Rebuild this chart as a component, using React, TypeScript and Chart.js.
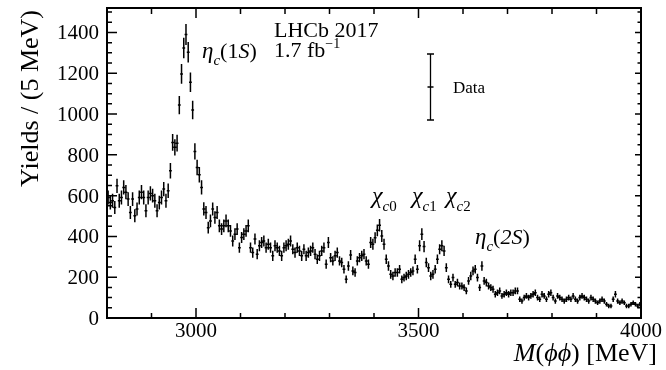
import { useEffect, useRef } from "react";
import { Chart, registerables } from "chart.js";

Chart.register(...registerables);

// Binning of the phi-phi invariant mass spectrum
const MASS_MIN = 2800;
const MASS_MAX = 4000;
const BIN_WIDTH = 5;
const YIELD_MAX = 1520;

// Yields per 5 MeV bin, split by mass region
const yieldsLowSideband = [
  591, 566, 575, 542, 648, 575, 591, 640, 617, 583, 517, 583, 501, 534, 591, 617, 591, 526, 591, 611,
  600, 575, 526, 566, 591, 632, 575, 624,
]; // 2800-2940 MeV
const yieldsEtaC1S = [
  722, 861, 837, 857, 1044, 1197, 1324, 1390, 1303, 1156, 1020, 817, 738, 702, 640, 535, 517, 443,
]; // 2940-3030 MeV
const yieldsContinuum = [
  476, 534, 493, 517, 452, 436, 452, 476, 452, 427, 378, 411, 436, 345, 395, 411, 427, 452, 345, 321,
  387, 313, 354, 370, 378, 345, 362, 345, 305, 354, 345, 329, 305, 345, 354, 362, 378, 337, 321, 345,
  329, 305, 337, 305, 321, 329, 345, 313, 288, 305, 329, 345,
]; // 3030-3290 MeV
const yieldsChiC = [
  264, 370, 296, 280, 305, 321, 280, 272, 239, 190, 255, 309, 231, 223, 280, 296, 305, 313, 280, 264,
  370, 362, 394, 430, 455, 402, 362, 288, 255, 214, 206, 223, 223, 239, 190, 198, 206, 214, 223, 231,
  288, 239, 354, 411, 350, 272, 247, 206, 214, 239, 288, 337, 354, 329, 247, 190, 165, 198, 165, 174,
  157, 157, 149, 133, 182, 206, 231, 239, 198, 149, 255, 182, 174, 157, 149, 141, 116, 124, 133, 108,
  116, 124,
]; // 3290-3700 MeV
const yieldsHighMass = [
  116, 124, 124, 133, 133, 92, 83, 100, 108, 100, 108, 116, 124, 100, 92, 116, 108, 92, 116, 124,
  100, 83, 108, 100, 92, 83, 92, 100, 92, 108, 92, 83, 100, 108, 100, 92, 83, 100, 92, 83,
  75, 83, 92, 83, 67, 59, 59, 92, 116, 83, 75, 83, 75, 59, 59, 67, 75, 67, 59, 67,
]; // 3700-4000 MeV

// Statistical uncertainties on the yields, same binning
const errorsLowSideband = [
  34, 34, 34, 32, 35, 34, 34, 35, 35, 34, 32, 34, 32, 32, 34, 35, 34, 32, 34, 35,
  34, 34, 32, 34, 34, 35, 34, 35,
];
const errorsEtaC1S = [38, 41, 40, 41, 45, 48, 50, 52, 50, 48, 45, 40, 38, 38, 35, 32, 32, 29];
const errorsContinuum = [
  31, 32, 31, 32, 31, 29, 31, 31, 31, 29, 27, 29, 29, 25, 27, 29, 29, 31, 25, 25,
  27, 25, 27, 27, 27, 25, 27, 25, 25, 27, 25, 25, 25, 25, 27, 27, 27, 25, 25, 25,
  25, 25, 25, 25, 25, 25, 25, 25, 23, 25, 25, 25,
];
const errorsChiC = [
  23, 27, 23, 23, 25, 25, 23, 23, 21, 19, 23, 25, 21, 21, 23, 23, 25, 25, 23, 23,
  27, 27, 27, 29, 31, 29, 27, 23, 23, 21, 21, 21, 21, 21, 19, 19, 21, 21, 21, 21,
  23, 21, 27, 29, 27, 23, 21, 21, 21, 21, 23, 25, 27, 25, 21, 19, 17, 19, 17, 19,
  17, 17, 17, 16, 19, 21, 21, 21, 19, 17, 23, 19, 19, 17, 17, 17, 16, 16, 16, 14,
  16, 16,
];
const errorsHighMass = [
  16, 16, 16, 16, 16, 13, 13, 14, 14, 14, 14, 16, 16, 14, 13, 16, 14, 13, 16, 16,
  14, 13, 14, 14, 13, 13, 13, 14, 13, 14, 13, 13, 14, 14, 14, 13, 13, 14, 13, 13,
  11, 13, 13, 13, 11, 11, 11, 13, 16, 13, 11, 13, 11, 11, 11, 11, 11, 11, 11, 11,
];

const yields = [
  ...yieldsLowSideband,
  ...yieldsEtaC1S,
  ...yieldsContinuum,
  ...yieldsChiC,
  ...yieldsHighMass,
];
const yieldErrors = [
  ...errorsLowSideband,
  ...errorsEtaC1S,
  ...errorsContinuum,
  ...errorsChiC,
  ...errorsHighMass,
];
const binCenters = yields.map((_, i) => MASS_MIN + BIN_WIDTH * (i + 0.5));

const xTickLabels = [3000, 3500, 4000];
const yTickLabels = [0, 200, 400, 600, 800, 1000, 1200, 1400];

const SERIF = '"Liberation Serif", "Times New Roman", Times, serif';

type Run = { text: string; size: number; italic?: boolean; dy?: number };

const runFont = (r: Run) => `${r.italic ? "italic " : ""}${r.size}px ${SERIF}`;

function runsWidth(ctx: CanvasRenderingContext2D, runs: Run[]) {
  let w = 0;
  for (const r of runs) {
    ctx.font = runFont(r);
    w += ctx.measureText(r.text).width;
  }
  return w;
}

function drawRuns(
  ctx: CanvasRenderingContext2D,
  runs: Run[],
  x: number,
  y: number,
  align: "left" | "right" | "center" = "left"
) {
  const w = runsWidth(ctx, runs);
  let cx = align === "right" ? x - w : align === "center" ? x - w / 2 : x;
  ctx.textAlign = "left";
  ctx.textBaseline = "alphabetic";
  for (const r of runs) {
    ctx.font = runFont(r);
    ctx.fillText(r.text, cx, y + (r.dy ?? 0));
    cx += ctx.measureText(r.text).width;
  }
}

const spectrumPlugin = {
  id: "spectrumDecor",
  afterDatasetsDraw(chart: Chart) {
    const { ctx, chartArea: a } = chart;
    const xs = chart.scales.x;
    const ys = chart.scales.y;

    // Data points with vertical error bars and bin-width horizontal bars
    ctx.save();
    ctx.beginPath();
    ctx.rect(a.left, a.top, a.right - a.left, a.bottom - a.top);
    ctx.clip();
    ctx.strokeStyle = "#000";
    ctx.lineWidth = 1.5;
    ctx.beginPath();
    for (let i = 0; i < yields.length; i++) {
      const c = binCenters[i];
      const v = yields[i];
      const e = yieldErrors[i];
      const px = xs.getPixelForValue(c);
      const py = ys.getPixelForValue(v);
      ctx.moveTo(px, ys.getPixelForValue(v + e));
      ctx.lineTo(px, ys.getPixelForValue(v - e));
      ctx.moveTo(xs.getPixelForValue(c - BIN_WIDTH / 2) - 0.3, py);
      ctx.lineTo(xs.getPixelForValue(c + BIN_WIDTH / 2) + 0.3, py);
    }
    ctx.stroke();
    ctx.restore();

    ctx.save();
    ctx.strokeStyle = "#000";
    ctx.fillStyle = "#000";

    // Axis ticks (inward, mirrored on top and right)
    ctx.lineWidth = 1.5;
    ctx.beginPath();
    for (let m = MASS_MIN + 100; m < MASS_MAX; m += 100) {
      const px = xs.getPixelForValue(m);
      const major = m % 500 === 0;
      ctx.moveTo(px, a.bottom);
      ctx.lineTo(px, a.bottom - (major ? 10 : 5));
      ctx.moveTo(px, a.top);
      ctx.lineTo(px, a.top + (major ? 10 : 6));
    }
    for (let v = 50; v <= YIELD_MAX; v += 50) {
      const py = ys.getPixelForValue(v);
      const major = v % 200 === 0;
      ctx.moveTo(a.left, py);
      ctx.lineTo(a.left + (major ? 10 : 5), py);
      ctx.moveTo(a.right, py);
      ctx.lineTo(a.right - (major ? 6 : 3.5), py);
    }
    ctx.stroke();

    // Frame
    ctx.lineWidth = 2;
    ctx.strokeRect(a.left, a.top, a.right - a.left, a.bottom - a.top);

    // Tick labels
    for (const m of xTickLabels) {
      drawRuns(ctx, [{ text: String(m), size: 21 }], xs.getPixelForValue(m), a.bottom + 19, "center");
    }
    for (const v of yTickLabels) {
      drawRuns(ctx, [{ text: String(v), size: 21 }], a.left - 8, ys.getPixelForValue(v) + 7, "right");
    }

    // Axis titles
    drawRuns(
      ctx,
      [
        { text: "M", size: 26, italic: true },
        { text: "(", size: 26 },
        { text: "ϕϕ", size: 26, italic: true },
        { text: ") [MeV]", size: 26 },
      ],
      657,
      361,
      "right"
    );
    ctx.save();
    ctx.translate(38, 10);
    ctx.rotate(-Math.PI / 2);
    drawRuns(ctx, [{ text: "Yields / (5 MeV)", size: 26 }], 0, 0, "right");
    ctx.restore();

    // Experiment label
    drawRuns(ctx, [{ text: "LHCb 2017", size: 22 }], 274, 37);
    drawRuns(
      ctx,
      [
        { text: "1.7 fb", size: 22 },
        { text: "−1", size: 14, dy: -9 },
      ],
      274,
      57
    );

    // Resonance labels
    drawRuns(
      ctx,
      [
        { text: "η", size: 23, italic: true },
        { text: "c", size: 15, italic: true, dy: 7 },
        { text: "(1", size: 22 },
        { text: "S", size: 22, italic: true },
        { text: ")", size: 22 },
      ],
      202,
      58
    );
    const chi = (sub: string, x: number) =>
      drawRuns(
        ctx,
        [
          { text: "χ", size: 24, italic: true },
          { text: "c", size: 15, italic: true, dy: 8 },
          { text: sub, size: 15, dy: 8 },
        ],
        x,
        203
      );
    chi("0", 372);
    chi("1", 412);
    chi("2", 446);
    drawRuns(
      ctx,
      [
        { text: "η", size: 23, italic: true },
        { text: "c", size: 15, italic: true, dy: 7 },
        { text: "(", size: 22 },
        { text: "2S", size: 22, italic: true },
        { text: ")", size: 22 },
      ],
      475,
      244
    );

    // Legend entry
    const lx = 430.5;
    ctx.lineWidth = 1.3;
    ctx.beginPath();
    ctx.moveTo(lx, 54);
    ctx.lineTo(lx, 120);
    ctx.moveTo(lx - 3.5, 54);
    ctx.lineTo(lx + 3.5, 54);
    ctx.moveTo(lx - 3.5, 120);
    ctx.lineTo(lx + 3.5, 120);
    ctx.moveTo(lx - 3, 87);
    ctx.lineTo(lx + 3, 87);
    ctx.stroke();
    drawRuns(ctx, [{ text: "Data", size: 17 }], 453, 93);

    ctx.restore();
  },
};

export default function App() {
  const canvasRef = useRef<HTMLCanvasElement | null>(null);

  useEffect(() => {
    const canvas = canvasRef.current;
    if (!canvas) return;
    const chart = new Chart(canvas, {
      type: "scatter",
      data: {
        datasets: [
          {
            label: "Data",
            data: binCenters.map((c, i) => ({ x: c, y: yields[i] })),
            pointRadius: 0,
            showLine: false,
            borderColor: "#000",
            backgroundColor: "#000",
          },
        ],
      },
      options: {
        responsive: false,
        animation: false,
        devicePixelRatio: 1,
        layout: { padding: { left: 107, right: 25, top: 8, bottom: 52 } },
        plugins: {
          legend: { display: false },
          tooltip: { enabled: false },
          title: { display: false },
        },
        scales: {
          x: {
            type: "linear",
            min: MASS_MIN,
            max: MASS_MAX,
            grid: { display: false, drawTicks: false },
            border: { display: false },
            ticks: { display: false },
            afterFit: (scale: any) => {
              scale.height = 0;
            },
          },
          y: {
            type: "linear",
            min: 0,
            max: YIELD_MAX,
            grid: { display: false, drawTicks: false },
            border: { display: false },
            ticks: { display: false },
            afterFit: (scale: any) => {
              scale.width = 0;
            },
          },
        },
      },
      plugins: [spectrumPlugin],
    });
    return () => chart.destroy();
  }, []);

  return (
    <div style={{ position: "fixed", left: 0, top: 0, width: 666, height: 370, background: "#fff" }}>
      <canvas ref={canvasRef} width={666} height={370} style={{ display: "block" }} />
    </div>
  );
}
